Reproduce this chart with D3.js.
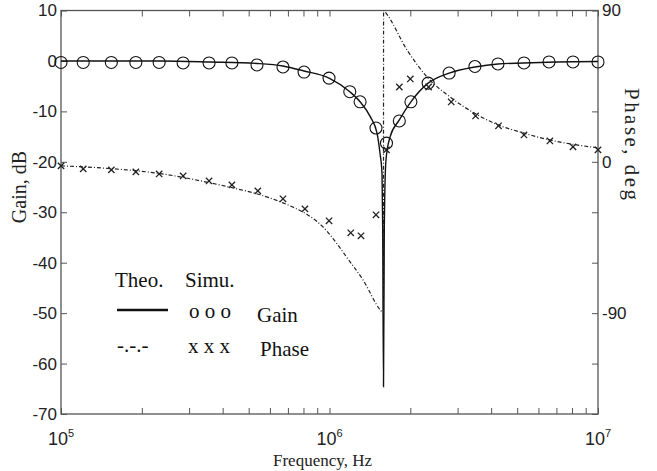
<!DOCTYPE html>
<html>
<head>
<meta charset="utf-8">
<script src="https://cdn.jsdelivr.net/npm/d3@7"></script>
<style>
  body { margin: 0; background: #fff; }
  svg { display: block; }
</style>
</head>
<body>
<div id="chart"></div>
<script>
/* ============================================
   GAIN / PHASE PLOT (notch, theo vs simu)
   ============================================ */

// Valores
const gainTheoFreq = [1e5, 2.34e5, 3.59e5, 5.37e5, 6.71e5, 8.04e5, 9.96e5, 1.19e6, 1.30e6,
                      1.42e6, 1.503e6, 1.542e6, 1.569e6, 1.578e6, 1.589e6, 1.600e6, 1.606e6,
                      1.6235e6, 1.680e6, 1.82e6, 2.01e6, 2.33e6, 2.79e6, 3.48e6, 4.24e6,
                      5.30e6, 7.0e6, 1e7];
const gainTheo = [0, 0, -0.2, -0.5, -1.0, -2.0, -3.4, -6.1, -8.1,
                  -11.1, -14.3, -18.3, -22.3, -33, -64.6, -33, -27,
                  -19.6, -15.1, -11.7, -8.1, -4.4, -2.4, -1.2, -0.6,
                  -0.4, -0.2, -0.1];

const gainSimFreq = [1.00e5, 1.21e5, 1.54e5, 1.90e5, 2.32e5, 2.85e5, 3.56e5, 4.33e5, 5.37e5,
                     6.71e5, 8.04e5, 9.96e5, 1.19e6, 1.30e6, 1.49e6, 1.63e6, 1.82e6, 2.01e6,
                     2.33e6, 2.79e6, 3.48e6, 4.24e6, 5.30e6, 6.57e6, 8.07e6, 1e7];
const gainSim = [-0.3, -0.3, -0.3, -0.3, -0.3, -0.4, -0.4, -0.4, -0.8,
                 -1.2, -2.2, -3.4, -6.1, -8.1, -13.3, -16.3, -11.9, -8.1,
                 -4.4, -2.4, -1.1, -0.6, -0.4, -0.2, -0.2, -0.2];

const phaseTheoFreq = [1e5, 1.52e5, 2.34e5, 3.59e5, 4.37e5, 5.51e5, 6.71e5, 7.50e5, 8.25e5, 9.00e5, 9.79e5,
                       1.076e6, 1.163e6, 1.333e6, 1.555e6, 1.588e6, 1.590e6, 1.610e6,
                       1.945e6, 2.307e6, 2.81e6, 3.45e6, 4.24e6, 5.26e6, 6.62e6, 1e7];
const phaseTheo = [-2.4, -4.0, -7.0, -12.5, -15.5, -19.6, -24.4, -27.8, -31.3, -35.6, -41.3,
                   -49.6, -57.1, -70.2, -88.6, -90, 90, 89.1,
                   66.5, 50.5, 38.6, 29.1, 22.0, 17.2, 13.0, 8.3];

const phaseSimFreq = [1.00e5, 1.21e5, 1.54e5, 1.90e5, 2.32e5, 2.85e5, 3.56e5, 4.33e5, 5.41e5,
                      6.71e5, 8.10e5, 9.96e5, 1.20e6, 1.31e6, 1.49e6, 1.63e6, 1.82e6, 2.00e6,
                      2.34e6, 2.84e6, 3.50e6, 4.26e6, 5.30e6, 6.62e6, 8.07e6, 1e7];
const phaseSim = [-2.4, -4.2, -4.8, -6.0, -7.2, -8.4, -11.4, -13.7, -17.3,
                  -22.0, -28.0, -35.1, -42.2, -44.0, -31.5, 7.1, 44.5, 49.3,
                  44.5, 35.6, 27.3, 21.4, 16.0, 12.4, 8.9, 7.1];

const gainTicks = [10, 0, -10, -20, -30, -40, -50, -60, -70];
const phaseTicks = [90, 60, 30, 0, -30, -60, -90, -120, -150];
const phaseTickLabels = [90, 0, -90];
const decades = [5, 6, 7];

// Geometría
const W = 657, H = 471;
const margin = { left: 61, right: 59, top: 10.5, bottom: 57 };

const svg = d3.select('#chart').append('svg')
    .attr('width', W)
    .attr('height', H);

const x = d3.scaleLog().domain([1e5, 1e7]).range([margin.left, W - margin.right]);
const yG = d3.scaleLinear().domain([-70, 10]).range([H - margin.bottom, margin.top]);
const yP = d3.scaleLinear().domain([-150, 90]).range([H - margin.bottom, margin.top]);

const sans = '"Liberation Sans", Arial, sans-serif';
const serif = '"Liberation Serif", "Times New Roman", serif';
const axisColor = '#555';
const textColor = '#222';

// Ticks menores en x (2..9 por década)
const minorTicks = [];
for (let d = 5; d < 7; d++) {
    for (let k = 2; k <= 9; k++) minorTicks.push(k * Math.pow(10, d));
}

function styleAxis(g) {
    g.selectAll('.domain').remove();
    g.selectAll('line').attr('stroke', axisColor).attr('stroke-width', 1);
    g.selectAll('text').attr('font-family', sans).attr('font-size', 17).attr('fill', textColor);
}

// Eje izquierdo (ganancia) - guion normal como signo menos
svg.append('g')
    .attr('transform', `translate(${margin.left},0)`)
    .call(d3.axisLeft(yG).tickValues(gainTicks).tickSizeInner(-6).tickSizeOuter(0).tickPadding(4)
        .tickFormat(d => String(d)))
    .call(styleAxis);

// Eje derecho (fase)
svg.append('g')
    .attr('transform', `translate(${W - margin.right},0)`)
    .call(d3.axisRight(yP).tickValues(phaseTicks).tickSizeInner(-6).tickSizeOuter(0).tickPadding(4)
        .tickFormat(d => phaseTickLabels.includes(d) ? String(d) : ''))
    .call(styleAxis);

// Eje inferior y superior (frecuencia)
const xTickVals = minorTicks.concat(decades.map(d => Math.pow(10, d)));
svg.append('g')
    .attr('transform', `translate(0,${H - margin.bottom})`)
    .call(d3.axisBottom(x).tickValues(xTickVals).tickSizeInner(-6).tickSizeOuter(0).tickFormat(''))
    .call(styleAxis);
svg.append('g')
    .attr('transform', `translate(0,${margin.top})`)
    .call(d3.axisTop(x).tickValues(xTickVals).tickSizeInner(-6).tickSizeOuter(0).tickFormat(''))
    .call(styleAxis);

// Etiquetas 10^n
const decLabel = svg.append('g').selectAll('text')
    .data(decades)
    .enter().append('text')
    .attr('x', d => x(Math.pow(10, d)))
    .attr('y', H - margin.bottom + 31)
    .attr('text-anchor', 'middle')
    .attr('font-family', sans)
    .attr('font-size', 18)
    .attr('fill', textColor);
decLabel.append('tspan').text('10');
decLabel.append('tspan').attr('dy', -8).attr('font-size', 11).text(d => d);

// Marco
svg.append('rect')
    .attr('x', margin.left)
    .attr('y', margin.top)
    .attr('width', W - margin.right - margin.left)
    .attr('height', H - margin.bottom - margin.top)
    .attr('fill', 'none')
    .attr('stroke', axisColor)
    .attr('stroke-width', 1.3);

// Títulos de ejes
svg.append('text')
    .attr('transform', `translate(19,${yG(-25)}) rotate(-90)`)
    .attr('text-anchor', 'middle')
    .attr('dy', '0.35em')
    .attr('font-family', serif)
    .attr('font-size', 20)
    .attr('fill', textColor)
    .text('Gain, dB');

svg.append('text')
    .attr('transform', `translate(632,144) rotate(90)`)
    .attr('text-anchor', 'middle')
    .attr('dy', '0.35em')
    .attr('font-family', serif)
    .attr('font-size', 21)
    .attr('textLength', 112)
    .attr('lengthAdjust', 'spacing')
    .attr('fill', textColor)
    .text('Phase, deg');

svg.append('text')
    .attr('x', (x(1e5) + x(1e7)) / 2 - 7)
    .attr('y', 466)
    .attr('text-anchor', 'middle')
    .attr('font-family', serif)
    .attr('font-size', 17)
    .attr('fill', textColor)
    .text('Frequency, Hz');

// Curvas teóricas
const gainLine = d3.line()
    .x((d, i) => x(gainTheoFreq[i]))
    .y(d => yG(d))
    .curve(d3.curveMonotoneX);

svg.append('path')
    .datum(gainTheo)
    .attr('fill', 'none')
    .attr('stroke', '#111')
    .attr('stroke-width', 1.4)
    .attr('d', gainLine);

const phaseLine = d3.line()
    .x((d, i) => x(phaseTheoFreq[i]))
    .y(d => yP(d))
    .curve(d3.curveMonotoneX);

svg.append('path')
    .datum(phaseTheo)
    .attr('fill', 'none')
    .attr('stroke', '#222')
    .attr('stroke-width', 1.2)
    .attr('stroke-dasharray', '4,2,1,2')
    .attr('d', phaseLine);

// Simulación: círculos (ganancia)
svg.append('g').selectAll('circle')
    .data(gainSim)
    .enter().append('circle')
    .attr('cx', (d, i) => x(gainSimFreq[i]))
    .attr('cy', d => yG(d))
    .attr('r', 6)
    .attr('fill', 'none')
    .attr('stroke', '#111')
    .attr('stroke-width', 1.1);

// Simulación: cruces (fase)
const cross = d3.symbol().type(d3.symbolX).size(28);
svg.append('g').selectAll('path')
    .data(phaseSim)
    .enter().append('path')
    .attr('transform', (d, i) => `translate(${x(phaseSimFreq[i])},${yP(d)})`)
    .attr('d', cross)
    .attr('fill', 'none')
    .attr('stroke', '#222')
    .attr('stroke-width', 1.3);

// Leyenda
const legend = svg.append('g')
    .attr('font-family', serif)
    .attr('font-size', 21)
    .attr('fill', '#111');

legend.append('text').attr('x', 115).attr('y', 287).text('Theo.');
legend.append('text').attr('x', 185).attr('y', 287).text('Simu.');
legend.append('line')
    .attr('x1', 117).attr('x2', 168)
    .attr('y1', 310).attr('y2', 310)
    .attr('stroke', '#111')
    .attr('stroke-width', 2.6);
legend.append('text').attr('x', 189).attr('y', 318).text('o o o');
legend.append('text').attr('x', 257).attr('y', 322).text('Gain');
legend.append('text').attr('x', 117).attr('y', 352).text('-.-.-');
legend.append('text').attr('x', 188).attr('y', 353).text('x x x');
legend.append('text').attr('x', 260).attr('y', 356).text('Phase');
</script>
</body>
</html>
